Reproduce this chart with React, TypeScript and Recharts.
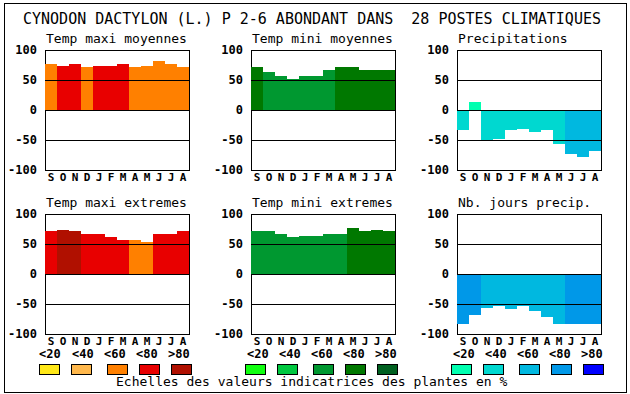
import React from 'react'
import { Bar, BarChart, Cell, ReferenceArea, ReferenceLine, XAxis, YAxis } from 'recharts'

const months = ['S', 'O', 'N', 'D', 'J', 'F', 'M', 'A', 'M', 'J', 'J', 'A']
const yTicks = [-100, -50, 0, 50, 100]
const scaleLabels = ['<20', '<40', '<60', '<80', '>80']

const maxiMoy = [76, 73, 76, 71, 74, 74, 76, 72, 74, 81, 77, 72]
const maxiMoyCls = [2, 3, 3, 2, 3, 3, 3, 2, 2, 2, 2, 2]
const miniMoy = [71, 64, 57, 51, 56, 56, 66, 71, 71, 67, 67, 67]
const miniMoyCls = [3, 2, 2, 2, 2, 2, 2, 3, 3, 3, 3, 3]
const precip = [-33, 14, -52, -49, -34, -32, -36, -34, -56, -74, -78, -68]
const precipCls = [1, 0, 1, 1, 1, 1, 1, 1, 1, 2, 2, 2]
const maxiExt = [72, 74, 71, 67, 67, 62, 57, 56, 54, 66, 66, 71]
const maxiExtCls = [3, 4, 4, 3, 3, 3, 3, 2, 2, 3, 3, 3]
const miniExt = [72, 71, 66, 61, 64, 64, 66, 66, 76, 72, 74, 72]
const miniExtCls = [2, 2, 2, 2, 2, 2, 2, 2, 3, 3, 3, 3]
const joursPrecip = [-83, -68, -56, -54, -58, -54, -61, -71, -84, -84, -84, -84]
const joursPrecipCls = [3, 3, 2, 2, 2, 2, 2, 2, 2, 3, 3, 3]

const redScale = ['#FFE818', '#FFB84C', '#FF8000', '#E80000', '#B01000']
const greenScale = ['#10FF10', '#00C840', '#009830', '#007800', '#006020']
const blueScale = ['#00FFB0', '#00D8D0', '#00B8E0', '#0098E8', '#0000FF']

const mono = '"DejaVu Sans Mono", monospace'

type PanelProps = {
  left: number
  top: number
  title: string
  values: number[]
  cls: number[]
  palette: string[]
}

function Panel({ left, top, title, values, cls, palette }: PanelProps) {
  const rows = months.map((m, i) => ({ key: String(i), v: values[i] }))
  const tickStyle = { fontSize: 12, fontWeight: 'bold', fill: '#000', fontFamily: mono }
  const monthStyle = { fontSize: 11, fontWeight: 'bold', fill: '#000', fontFamily: mono }
  return (
    <div style={{ position: 'absolute', left, top }}>
      <div style={{ position: 'absolute', left: 46, top: -8, fontFamily: mono, fontSize: 13, lineHeight: '13px', whiteSpace: 'pre' }}>
        {title}
      </div>
      <BarChart
        width={200}
        height={150}
        data={rows}
        margin={{ top: 10, right: 11, left: 0, bottom: 0 }}
        barCategoryGap={0}
        barGap={0}
        style={{ shapeRendering: 'crispEdges' }}
      >
        <XAxis
          dataKey="key"
          interval={0}
          height={20}
          axisLine={false}
          tickLine={false}
          tickSize={1}
          tickMargin={2}
          tick={monthStyle}
          tickFormatter={(k) => months[Number(k)]}
        />
        <YAxis
          domain={[-100, 100]}
          ticks={yTicks}
          width={45}
          axisLine={false}
          tickLine={false}
          tick={tickStyle}
          allowDataOverflow
        />
        <Bar dataKey="v" isAnimationActive={false}>
          {rows.map((r, i) => (
            <Cell key={r.key} fill={palette[cls[i]]} />
          ))}
        </Bar>
        <ReferenceLine y={50} stroke="#000" strokeWidth={1} />
        <ReferenceLine y={0} stroke="#000" strokeWidth={1} />
        <ReferenceLine y={-50} stroke="#000" strokeWidth={1} />
        <ReferenceArea y1={-100} y2={100} fill="none" fillOpacity={0} stroke="#000" strokeWidth={1} />
      </BarChart>
    </div>
  )
}

const boxX = [
  [39, 71, 107, 139, 171],
  [245, 277, 313, 345, 377],
  [451, 483, 519, 551, 583],
]
const labelX = [
  [39, 72, 104, 136, 168],
  [247, 279, 311, 343, 375],
  [453, 485, 517, 549, 581],
]

export default function App() {
  const palettes = [redScale, greenScale, blueScale]
  return (
    <div style={{ position: 'absolute', left: 0, top: 0, width: 630, height: 394, background: '#fff' }}>
      <Panel left={0} top={40} title="Temp maxi moyennes" values={maxiMoy} cls={maxiMoyCls} palette={redScale} />
      <Panel left={206} top={40} title="Temp mini moyennes" values={miniMoy} cls={miniMoyCls} palette={greenScale} />
      <Panel left={412} top={40} title="Precipitations" values={precip} cls={precipCls} palette={blueScale} />
      <Panel left={0} top={204} title="Temp maxi extremes" values={maxiExt} cls={maxiExtCls} palette={redScale} />
      <Panel left={206} top={204} title="Temp mini extremes" values={miniExt} cls={miniExtCls} palette={greenScale} />
      <Panel left={412} top={204} title="Nb. jours precip." values={joursPrecip} cls={joursPrecipCls} palette={blueScale} />
      <svg
        width={630}
        height={394}
        style={{ position: 'absolute', left: 0, top: 0, pointerEvents: 'none', shapeRendering: 'crispEdges' }}
      >
        <rect x={4} y={3} width={622} height={389} fill="none" stroke="#000" />
        <text x={23} y={24} fontFamily={mono} fontSize={15} style={{ whiteSpace: 'pre' }}>
          CYNODON DACTYLON (L.) P 2-6 ABONDANT DANS  28 POSTES CLIMATIQUES
        </text>
        {palettes.map((pal, c) => (
          <g key={c}>
            {scaleLabels.map((lab, j) => (
              <text key={'t' + j} x={labelX[c][j]} y={358} fontFamily={mono} fontSize={12} fontWeight="bold">
                {lab}
              </text>
            ))}
            {pal.map((col, j) => (
              <rect key={'r' + j} x={boxX[c][j]} y={364} width={20} height={10} fill={col} stroke="#000" />
            ))}
          </g>
        ))}
        <text x={116} y={386} fontFamily={mono} fontSize={13}>
          Echelles des valeurs indicatrices des plantes en %
        </text>
      </svg>
    </div>
  )
}
